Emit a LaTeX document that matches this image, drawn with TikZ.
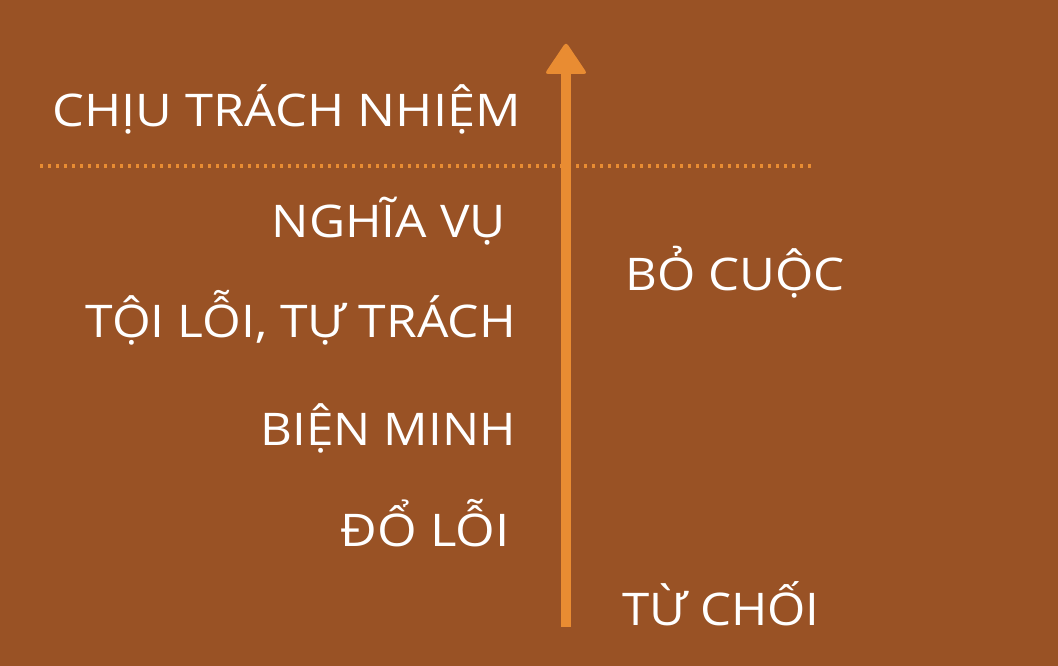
\documentclass[tikz,border=0pt]{standalone}
\usepackage{fontspec}
\usepackage{graphicx}
\setmainfont{Open Sans}
\definecolor{bgbrown}{RGB}{153,82,37}
\definecolor{arroworange}{RGB}{233,140,50}
\newlength\fittw
\newcommand\fitto[2]{\settowidth\fittw{#2}\pgfmathsetmacro\fitratio{(#1+5)/\fittw}\scalebox{\fitratio}[1]{#2}}
\tikzset{
  lbl/.style={anchor=base west, inner sep=0pt, text=white, font=\fontsize{45}{50}\selectfont},
  dotline/.style={draw=arroworange, line width=3.4pt, dash pattern=on 3.4pt off 4.6pt},
}
\begin{document}
\begin{tikzpicture}[x=1pt,y=-1pt]
\fill[bgbrown] (0,0) rectangle (1058,666);
\useasboundingbox (0,0) rectangle (1058,666);
% dotted separator
\coordinate (dl) at (40,166);
\coordinate (dr) at (815,166);
\draw[dotline] (dl) -- (dr);
% arrow
\coordinate (abot) at (566,627);
\coordinate (atop) at (566,72);
\fill[arroworange] ([xshift=-5pt]abot) rectangle ([xshift=5pt]atop);
\fill[arroworange, rounded corners=3.5pt] ([xshift=-21.5pt,yshift=-2pt]atop) -- ([yshift=30pt]atop) -- ([xshift=21.5pt,yshift=-2pt]atop) -- cycle;
% labels
\node[lbl] (a) at (52.5,127) {\fitto{463}{CHỊU TRÁCH NHIỆM}};
\node[lbl] (b) at (271.5,237) {\fitto{229}{NGHĨA VỤ}};
\node[lbl] (c) at (85.5,337) {\fitto{425}{TỘI LỖI, TỰ TRÁCH}};
\node[lbl] (d) at (260.5,445) {\fitto{250}{BIỆN MINH}};
\node[lbl] (e) at (340.5,546) {\fitto{164}{ĐỔ LỖI}};
\node[lbl] (f) at (625.5,290) {\fitto{214}{BỎ CUỘC}};
\node[lbl] (g) at (622.5,625) {\fitto{192}{TỪ CHỐI}};
\end{tikzpicture}
\end{document}
